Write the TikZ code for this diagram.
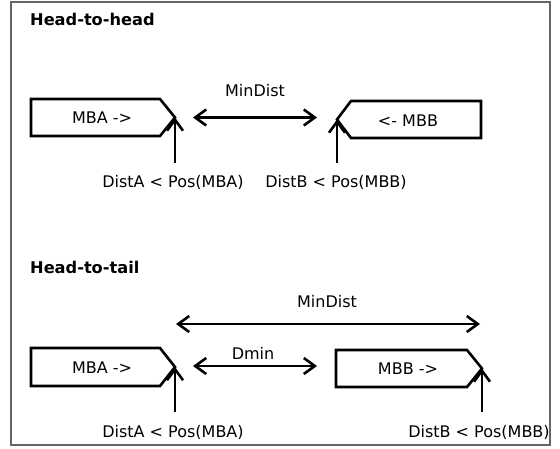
\documentclass[tikz,border=0pt]{standalone}
\usepackage{fontspec}
\setmainfont{DejaVu Sans}
\usetikzlibrary{arrows.meta}
\begin{document}
\begin{tikzpicture}[x=1pt,y=-1pt,
  font=\fontsize{16}{19}\selectfont,
  box/.style={line width=2.6pt, line join=miter},
  conn/.style={line width=2.6pt, -{Straight Barb[length=11pt,width=16pt]}},
  dconn/.style={line width=2.6pt, {Straight Barb[length=11pt,width=16pt]}-{Straight Barb[length=11pt,width=16pt]}},
  lbl/.style={inner sep=0pt},
  title/.style={inner sep=0pt, anchor=west, font=\fontsize{16.2}{19}\selectfont\bfseries}]
\useasboundingbox (0,0) rectangle (560,448);
\draw[line width=1.2pt, draw=black!60] (11,2) rectangle (550,445);

% Head-to-head
\node[title] (t1) at (30,19) {Head-to-head};
\draw[box] (31,99) -- (160,99) -- (175,117.5) -- (160,136) -- (31,136) -- cycle;
\coordinate (a1tip) at (175,117.5);
\node[lbl] (mba1) at (102,118) {MBA ->};
\draw[box] (337,119.5) -- (351,101) -- (481,101) -- (481,138) -- (351,138) -- cycle;
\coordinate (b1tip) at (337,119.5);
\node[lbl] (mbb1) at (408,121) {<- MBB};
\coordinate (md1l) at (193,117.5);
\coordinate (md1r) at (317,117.5);
\draw[dconn] (md1l) -- (md1r);
\node[lbl] (md1) at (255,91) {MinDist};
\coordinate (a1bot) at (175,163);
\coordinate (b1bot) at (337,163);
\draw[conn] (a1bot) -- (a1tip);
\draw[conn] (b1bot) -- (b1tip);
\node[lbl] (da1) at (173,182) {DistA < Pos(MBA)};
\node[lbl] (db1) at (336,182) {DistB < Pos(MBB)};

% Head-to-tail
\node[title] (t2) at (30,267) {Head-to-tail};
\draw[box] (31,348) -- (160,348) -- (175,367) -- (160,386) -- (31,386) -- cycle;
\coordinate (a2tip) at (175,367);
\node[lbl] (mba2) at (102,368) {MBA ->};
\draw[box] (336,350) -- (467,350) -- (482,368.5) -- (467,387) -- (336,387) -- cycle;
\coordinate (b2tip) at (482,368.5);
\node[lbl] (mbb2) at (408,369) {MBB ->};
\coordinate (md2l) at (176,324);
\coordinate (md2r) at (480,324);
\draw[dconn] (md2l) -- (md2r);
\node[lbl] (md2) at (327,302) {MinDist};
\coordinate (dm2l) at (193,366);
\coordinate (dm2r) at (317,366);
\draw[dconn] (dm2l) -- (dm2r);
\node[lbl] (dmin) at (253,353) {Dmin};
\coordinate (a2bot) at (175,412);
\coordinate (b2bot) at (482,412);
\draw[conn] (a2bot) -- (a2tip);
\draw[conn] (b2bot) -- (b2tip);
\node[lbl] (da2) at (173,432) {DistA < Pos(MBA)};
\node[lbl] (db2) at (479,432) {DistB < Pos(MBB)};
\end{tikzpicture}
\end{document}
